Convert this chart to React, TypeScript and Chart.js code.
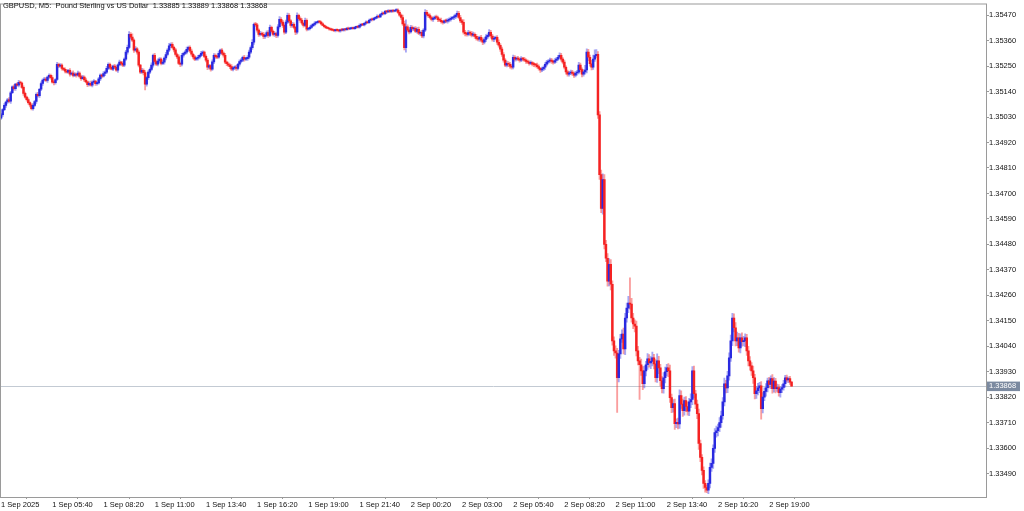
import React, { useEffect, useRef } from "react";
import { Chart, registerables } from "chart.js";

Chart.register(...registerables);

// ---------- DATA ----------
const TITLE_TEXT = "GBPUSD, M5:  Pound Sterling vs US Dollar  1.33885 1.33889 1.33868 1.33868";
const POINT = 0.00001;
const FIRST_OPEN = 135025;

// close prices in points (1 point = 0.00001)
const CLOSES = [
  135040,135062,135080,135095,135104,135098,135135,135160,135152,135172,135168,135180,135177,135158,135132,135116,135105,135092,135082,135066,
  135080,135097,135128,135122,135150,135175,135190,135194,135188,135203,135210,135200,135181,135178,135192,135258,135250,135254,135240,135236,
  135228,135224,135232,135215,135220,135210,135216,135211,135220,135205,135196,135203,135190,135182,135170,135176,135168,135181,135185,135174,
  135177,135195,135211,135206,135218,135224,135240,135258,135245,135237,135250,135245,135232,135255,135267,135262,135254,135280,135310,135331,
  135387,135375,135362,135319,135325,135310,135254,135224,135232,135222,135172,135200,135224,135236,135254,135297,135270,135258,135272,135280,
  135262,135267,135285,135300,135319,135338,135344,135331,135320,135300,135290,135262,135258,135297,135305,135310,135322,135331,135315,135301,
  135290,135280,135284,135288,135296,135305,135310,135292,135276,135245,135252,135237,135268,135297,135290,135288,135305,135319,135306,135297,
  135267,135260,135254,135248,135237,135242,135245,135240,135258,135270,135276,135288,135280,135282,135288,135310,135330,135353,135430,135428,
  135405,135387,135392,135387,135378,135383,135395,135383,135417,135400,135387,135390,135383,135420,135452,135440,135426,135396,135440,135469,
  135445,135426,135430,135417,135396,135469,135455,135448,135435,135426,135448,135409,135412,135417,135425,135430,135436,135439,135442,135440,
  135432,135426,135420,135416,135413,135410,135407,135405,135403,135406,135404,135402,135407,135405,135409,135407,135413,135410,135412,135415,
  135412,135417,135420,135418,135426,135430,135428,135435,135440,135437,135448,135452,135450,135456,135460,135465,135462,135473,135478,135476,
  135486,135484,135488,135486,135490,135487,135490,135492,135482,135470,135460,135432,135330,135420,135405,135398,135417,135410,135413,135400,
  135409,135392,135396,135380,135405,135482,135473,135468,135460,135452,135456,135462,135460,135450,135448,135442,135439,135445,135444,135448,
  135452,135456,135460,135462,135470,135478,135460,135445,135439,135396,135390,135387,135395,135392,135384,135387,135378,135370,135366,135374,
  135362,135353,135365,135376,135383,135396,135380,135366,135370,135374,135353,135340,135323,135300,135276,135254,135262,135258,135250,135245,
  135288,135280,135284,135280,135276,135282,135280,135276,135270,135267,135262,135265,135258,135256,135254,135248,135240,135233,135238,135245,
  135258,135267,135272,135276,135270,135267,135274,135280,135288,135297,135280,135267,135245,135225,135215,135220,135224,135218,135211,135220,
  135224,135254,135235,135215,135225,135233,135310,135288,135260,135245,135280,135295,135301,135039,134781,134635,134760,134480,134420,134321,
  134394,134308,134063,134020,134011,133904,134007,134072,134093,134029,134162,134205,134226,134222,134162,134136,134127,134020,133977,133960,
  133934,133878,133934,133960,133986,133968,133975,133990,133964,133904,133977,133947,133891,133857,133904,133930,133947,133934,133818,133775,
  133792,133706,133712,133705,133827,133790,133762,133805,133780,133760,133800,133810,133934,133835,133790,133749,133620,133560,133504,133448,
  133430,133418,133448,133517,133534,133599,133667,133675,133689,133710,133740,133800,133878,133860,133912,133990,134063,134162,134120,134063,
  134076,134033,134076,134060,134063,134076,134020,133977,133955,133934,133904,133835,133848,133860,133869,133770,133820,133845,133861,133891,
  133875,133900,133857,133890,133857,133862,133840,133855,133862,133878,133904,133895,133900,133885,133868,
];

// upper wick above the body, in points
const UPPER_WICKS = [
  6,5,8,4,7,10,6,5,9,4,6,8,5,4,7,6,5,8,4,6,
  8,5,6,9,4,7,5,8,6,4,7,5,9,6,4,8,5,7,6,5,
  6,8,4,7,5,9,6,4,8,5,6,7,5,8,4,6,9,5,7,4,
  5,7,6,4,8,5,9,6,5,7,4,8,6,5,9,4,7,6,8,10,
  12,8,14,6,9,5,7,4,8,6,9,5,7,6,10,5,8,6,9,7,
  6,8,5,9,7,10,6,8,5,7,6,9,5,8,6,7,10,5,6,8,
  5,7,6,8,4,9,6,5,7,8,6,5,9,7,6,8,10,5,7,6,
  8,5,7,6,9,5,6,8,4,7,6,5,8,6,7,9,8,12,6,9,
  7,6,8,5,9,6,7,8,10,6,5,8,6,9,12,7,8,6,9,10,
  8,6,9,7,5,11,6,8,7,5,9,6,5,7,6,5,6,4,5,6,
  4,5,3,4,5,3,4,5,3,4,5,4,3,5,4,3,4,5,4,3,
  4,5,3,4,6,4,5,3,6,4,5,4,6,5,4,6,5,4,6,5,
  5,4,6,5,4,5,4,6,5,8,6,10,12,30,8,6,9,7,6,8,
  7,9,6,8,7,12,9,7,8,6,7,5,8,6,7,9,6,5,8,7,
  6,7,5,8,6,10,8,9,7,12,8,7,9,6,8,10,7,9,8,6,
  9,7,8,10,6,12,8,7,9,6,8,10,7,9,8,6,10,7,8,9,
  10,7,6,8,7,9,6,8,5,7,6,8,5,7,6,9,7,5,8,6,
  7,8,6,9,7,6,8,7,9,10,8,7,9,6,8,7,9,8,6,7,
  8,12,9,7,10,20,15,12,10,15,18,25,20,12,15,20,25,22,18,20,
  25,20,15,18,22,20,15,20,18,25,20,22,30,110,25,20,18,22,20,15,
  25,18,20,15,22,18,20,25,15,18,30,20,15,18,22,20,15,18,25,15,
  18,20,15,18,25,20,22,15,18,20,15,25,18,20,15,18,20,15,12,15,
  12,10,15,18,20,15,18,20,15,22,20,18,25,15,20,22,25,20,18,22,
  25,20,18,22,20,18,15,20,18,15,20,15,18,20,15,18,20,15,18,12,
  15,12,18,15,12,15,12,10,12,15,10,12,8,10,4,
];

// lower wick below the body, in points
const LOWER_WICKS = [
  5,7,4,8,6,5,9,4,6,7,5,8,6,4,9,5,7,6,8,5,
  6,4,8,5,7,6,9,5,4,8,6,7,5,9,6,4,7,5,8,6,
  7,5,6,8,4,7,6,9,5,6,8,4,7,5,9,6,5,8,4,7,
  6,5,8,7,4,9,6,5,8,4,7,6,5,9,4,8,6,7,5,9,
  6,8,7,10,6,9,8,7,6,10,25,9,8,7,6,9,8,6,7,8,
  7,6,9,8,6,7,8,5,9,7,8,6,10,7,8,6,7,9,6,8,
  9,7,6,8,7,5,9,6,8,10,7,9,6,8,7,6,5,8,7,9,
  7,8,6,9,7,8,6,9,7,8,6,7,9,6,8,7,6,8,9,7,
  8,9,7,6,10,8,7,9,6,8,7,9,10,8,6,7,9,8,6,7,
  7,9,8,6,10,7,8,9,7,8,6,7,5,6,4,5,6,5,4,5,
  4,3,5,4,3,5,4,3,4,5,3,4,5,3,4,5,3,4,3,4,
  3,4,5,3,4,5,3,4,5,4,3,4,5,4,3,5,4,3,4,5,
  4,5,3,4,5,4,3,5,4,6,8,6,10,20,7,9,6,8,7,6,
  8,6,9,7,8,6,7,8,6,7,9,6,7,8,6,7,8,6,7,9,
  7,8,6,9,7,8,6,7,9,8,10,8,7,9,8,6,9,8,7,9,
  8,10,7,9,8,6,9,8,10,7,9,8,10,8,9,7,8,10,9,8,
  7,9,8,6,9,7,8,6,9,7,8,6,7,8,9,7,8,10,7,8,
  9,7,8,6,8,9,7,8,6,7,9,8,7,10,8,9,7,8,10,8,
  9,8,10,12,9,10,12,15,10,12,9,10,8,15,20,18,25,20,15,22,
  20,25,18,20,22,150,18,20,15,22,25,18,20,22,18,20,25,22,18,150,
  20,25,18,22,20,18,25,20,22,18,20,25,22,18,20,22,18,25,20,22,
  20,25,18,22,20,18,25,20,22,18,20,25,22,18,20,22,25,18,20,22,
  20,10,15,20,18,22,18,20,22,18,20,15,18,22,20,18,15,20,18,22,
  20,18,22,20,18,25,20,22,18,20,25,22,20,18,20,45,18,15,20,18,
  15,18,20,15,18,12,15,20,15,12,15,10,12,10,0,
];

const X_LABELS = [
  "1 Sep 2025", "1 Sep 05:40", "1 Sep 08:20", "1 Sep 11:00", "1 Sep 13:40", "1 Sep 16:20",
  "1 Sep 19:00", "1 Sep 21:40", "2 Sep 00:20", "2 Sep 03:00", "2 Sep 05:40", "2 Sep 08:20",
  "2 Sep 11:00", "2 Sep 13:40", "2 Sep 16:20", "2 Sep 19:00",
];
const BARS_PER_LABEL = 32;

const Y_TICKS = [
  1.3349, 1.336, 1.3371, 1.3382, 1.3393, 1.3404, 1.3415, 1.3426, 1.3437, 1.3448,
  1.3459, 1.347, 1.3481, 1.3492, 1.3503, 1.3514, 1.3525, 1.3536, 1.3547,
];
const Y_MIN = 1.33389;
const Y_MAX = 1.35516;
const X_MIN = -0.06;
const X_MAX = 615.5;

// ---------- STYLE ----------
const FONT_FAMILY = "'Liberation Sans', Arial, sans-serif";
const FONT_SIZE = 7.5;
const BULL_BODY = "#2a2ae0";
const BEAR_BODY = "#f52222";
const BULL_WICK = "rgba(60,60,230,0.45)";
const BEAR_WICK = "rgba(245,40,40,0.45)";
const FRAME = "#9a9a9a";

export default function App() {
  const canvasRef = useRef<HTMLCanvasElement | null>(null);

  useEffect(() => {
    document.body.style.margin = "0";
    document.body.style.background = "#ffffff";
    const canvas = canvasRef.current;
    if (!canvas) return;

    const opens = CLOSES.map((c, i) => (i === 0 ? FIRST_OPEN : CLOSES[i - 1]));
    const bull = CLOSES.map((c, i) => c >= opens[i]);
    const bodies = CLOSES.map((c, i) => ({ x: i, y: [opens[i] * POINT, c * POINT] }));
    const wicks = CLOSES.map((c, i) => ({
      x: i,
      y: [
        (Math.min(opens[i], c) - (LOWER_WICKS[i] || 0)) * POINT,
        (Math.max(opens[i], c) + (UPPER_WICKS[i] || 0)) * POINT,
      ],
    }));
    const lastPrice = CLOSES[CLOSES.length - 1] * POINT;

    const overlay = {
      id: "mtOverlay",
      beforeDatasetsDraw(chart: any) {
        const { ctx, chartArea } = chart;
        const y = Math.round(chart.scales.y.getPixelForValue(lastPrice)) + 0.5;
        ctx.save();
        ctx.strokeStyle = "#c3cad3";
        ctx.lineWidth = 1;
        ctx.beginPath();
        ctx.moveTo(chartArea.left, y);
        ctx.lineTo(chartArea.right, y);
        ctx.stroke();
        ctx.restore();
      },
      afterDraw(chart: any) {
        const { ctx, chartArea } = chart;
        ctx.save();
        ctx.strokeStyle = FRAME;
        ctx.lineWidth = 1;
        ctx.strokeRect(chartArea.left - 0.5, chartArea.top - 0.5, chartArea.right - chartArea.left + 1, chartArea.bottom - chartArea.top + 1);
        ctx.fillStyle = "#111";
        ctx.font = `${FONT_SIZE}px ${FONT_FAMILY}`;
        ctx.textBaseline = "middle";
        ctx.textAlign = "left";
        ctx.fillText(TITLE_TEXT, 3, 6);
        const y = chart.scales.y.getPixelForValue(lastPrice);
        const label = lastPrice.toFixed(5);
        ctx.fillStyle = "#7b8aa0";
        ctx.fillRect(chartArea.right + 1, y - 4.5, 33, 9.5);
        ctx.fillStyle = "#ffffff";
        ctx.fillText(label, chartArea.right + 3, y + 0.3);
        ctx.restore();
      },
    };

    const chart = new Chart(canvas, {
      type: "bar",
      data: {
        datasets: [
          {
            label: "body",
            data: bodies as any,
            backgroundColor: bull.map((b) => (b ? BULL_BODY : BEAR_BODY)),
            borderWidth: 0,
            barThickness: 1.8,
            minBarLength: 1,
            grouped: false,
            order: 0,
          } as any,
          {
            label: "wick",
            data: wicks as any,
            backgroundColor: bull.map((b) => (b ? BULL_WICK : BEAR_WICK)),
            borderWidth: 0,
            barThickness: 1.2,
            grouped: false,
            order: 1,
          } as any,
        ],
      },
      options: {
        responsive: false,
        animation: false,
        events: [],
        layout: { padding: { left: 1, top: 2, right: 0, bottom: 0 } },
        plugins: { legend: { display: false }, tooltip: { enabled: false }, title: { display: false } },
        scales: {
          x: {
            type: "linear",
            min: X_MIN,
            max: X_MAX,
            offset: false,
            afterBuildTicks: (scale: any) => {
              scale.ticks = X_LABELS.map((_, k) => ({ value: k * BARS_PER_LABEL }));
            },
            afterFit: (scale: any) => {
              scale.height = 14;
            },
            ticks: {
              autoSkip: false,
              maxRotation: 0,
              minRotation: 0,
              align: "start",
              padding: 1,
              color: "#111",
              font: { family: FONT_FAMILY, size: FONT_SIZE },
              callback: (v: any) => X_LABELS[Math.round(Number(v) / BARS_PER_LABEL)] ?? "",
            },
            grid: { display: true, drawOnChartArea: false, drawTicks: true, tickLength: 2, color: FRAME },
            border: { display: true, color: FRAME },
          },
          y: {
            type: "linear",
            position: "right",
            min: Y_MIN,
            max: Y_MAX,
            beginAtZero: false,
            afterBuildTicks: (scale: any) => {
              scale.ticks = Y_TICKS.map((v) => ({ value: v }));
            },
            afterFit: (scale: any) => {
              scale.width = 38;
            },
            ticks: {
              autoSkip: false,
              padding: 0,
              color: "#111",
              font: { family: FONT_FAMILY, size: FONT_SIZE },
              callback: (v: any) => Number(v).toFixed(5),
            },
            grid: { display: true, drawOnChartArea: false, drawTicks: true, tickLength: 3, color: FRAME },
            border: { display: true, color: FRAME },
          },
        },
      },
      plugins: [overlay],
    } as any);

    return () => chart.destroy();
  }, []);

  return (
    <div style={{ width: 1024, height: 511, background: "#fff" }}>
      <canvas ref={canvasRef} width={1024} height={511} style={{ display: "block" }} />
    </div>
  );
}
